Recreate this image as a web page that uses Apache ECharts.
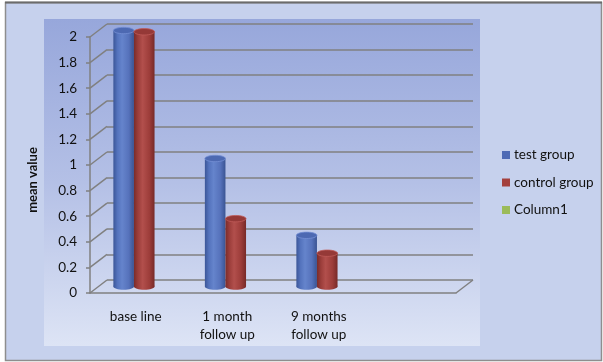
<!DOCTYPE html>
<html>
<head>
<meta charset="utf-8">
<script src="https://cdn.jsdelivr.net/npm/echarts@6/dist/echarts.min.js"></script>
<style>
  html, body { margin: 0; padding: 0; background: #ffffff; }
  #chart { width: 603px; height: 362px; }
</style>
</head>
<body>
<div id="chart"></div>
<script>
// ---- data ----
const categories = ['base line', '1 month\nfollow up', '9 months\nfollow up', ''];
const seriesNames = ['test group', 'control group', 'Column1'];
const testGroup = [2.0, 1.0, 0.4, null];
const controlGroup = [1.99, 0.53, 0.26, null];
const column1 = [null, null, null, null];
const yTicks = [0, 0.2, 0.4, 0.6, 0.8, 1, 1.2, 1.4, 1.6, 1.8, 2];

// ---- layout ----
const FONT = 'Lato, "Open Sans", sans-serif';
const FONT_SIZE = 13.5;
const FRONT = { left: 90, top: 37, width: 366, height: 256 };
const DEPTH = [17, -13];           // offset from front plane to back wall
const GRID_COLOR = '#808080';

const palette = [
  { main: '#4f6bb5', stops: ['#3b5698', '#5473bd', '#6584cc', '#5672bb', '#3a5493'], cap: '#4d69b2', rim: '#7690d6' },
  { main: '#a4403d', stops: ['#7a2c2a', '#9c3e3b', '#b24f4c', '#9d3d3a', '#772a28'], cap: '#953937', rim: '#c05c59' },
  { main: '#9bbb59', stops: ['#7a9a40', '#9bbb59', '#afcd6e', '#9bbb59', '#789640'], cap: '#8fb04f', rim: '#bcd884' }
];
const seriesData = [testGroup, controlGroup, column1];

function gridAt(shift) {
  return {
    left: FRONT.left + shift[0], top: FRONT.top + shift[1],
    width: FRONT.width, height: FRONT.height,
    outerBoundsMode: 'none', containLabel: false
  };
}

function valueAxis(gridIndex, extra) {
  return Object.assign({
    type: 'value', gridIndex, min: 0, max: 2, interval: 0.2,
    axisLine: { show: false }, axisTick: { show: false },
    axisLabel: { show: false }, splitLine: { show: false }
  }, extra || {});
}

function cylinderRenderer(idx) {
  const c = palette[idx];
  return function (params, api) {
    const v = api.value(1);
    if (v == null || isNaN(v)) return null;
    const cat = api.value(0);
    const top = api.coord([cat, v]);
    const base = api.coord([cat, 0]);
    const band = api.size([1, 0])[0];
    const w = band * 0.225;
    const left = top[0] - 1.5 * w + idx * w;
    const rx = w / 2, ry = 3.2, cx = left + rx;
    const grad = new echarts.graphic.LinearGradient(0, 0, 1, 0, [
      { offset: 0, color: c.stops[0] },
      { offset: 0.2, color: c.stops[1] },
      { offset: 0.42, color: c.stops[2] },
      { offset: 0.75, color: c.stops[3] },
      { offset: 1, color: c.stops[4] }
    ]);
    return {
      type: 'group',
      children: [
        { type: 'ellipse', shape: { cx, cy: base[1], rx, ry }, style: { fill: grad } },
        { type: 'rect', shape: { x: left, y: top[1], width: w, height: base[1] - top[1] }, style: { fill: grad } },
        { type: 'ellipse', shape: { cx, cy: top[1], rx, ry }, style: { fill: c.cap, stroke: c.rim, lineWidth: 0.8 } }
      ]
    };
  };
}

// diagonal depth lines from the front axis to the back wall
function depthLines(params, api) {
  const cs = params.coordSys;
  const v = api.value(1);
  const y = api.coord([0, v])[1];
  const lineStyle = { stroke: GRID_COLOR, lineWidth: 1.5 };
  const children = [
    { type: 'line', shape: { x1: cs.x, y1: y, x2: cs.x + DEPTH[0], y2: y + DEPTH[1] }, style: lineStyle }
  ];
  if (v === 0) {
    children.push({ type: 'line',
      shape: { x1: cs.x + cs.width, y1: y, x2: cs.x + cs.width + DEPTH[0], y2: y + DEPTH[1] },
      style: lineStyle });
  }
  return { type: 'group', children };
}

const chart = echarts.init(document.getElementById('chart'), null, { renderer: 'canvas' });

const option = {
  animation: false,
  backgroundColor: 'transparent',
  textStyle: { fontFamily: FONT },
  graphic: [
    { type: 'rect', z: -100, shape: { x: 5.5, y: 2.5, width: 596, height: 358 },
      style: { fill: '#c6d1ed', stroke: '#8e8e8e', lineWidth: 1.5 } },
    { type: 'line', z: -99, shape: { x1: 5, y1: 2.5, x2: 602, y2: 2.5 },
      style: { stroke: '#6b6b6b', lineWidth: 2 } },
    { type: 'rect', z: -98, shape: { x: 44, y: 19, width: 436, height: 327 },
      style: { fill: new echarts.graphic.LinearGradient(0, 0, 0, 1, [
        { offset: 0, color: '#97a7db' },
        { offset: 0.5, color: '#b4c0e6' },
        { offset: 1, color: '#dde4f5' }
      ]) } },
    { type: 'text', z: 10, x: 33, y: 180, rotation: Math.PI / 2,
      style: { text: 'mean value', fontFamily: FONT, fontSize: 13, fontWeight: 'bold',
        fill: '#111', align: 'center', verticalAlign: 'middle' } }
  ],
  grid: [
    gridAt(DEPTH),                       // back wall
    gridAt([0, 0]),                      // front plane (axes, labels)
    gridAt([DEPTH[0] / 2, DEPTH[1] / 2]) // middle plane (cylinders)
  ],
  xAxis: [
    { type: 'category', gridIndex: 0, data: categories, show: false },
    { type: 'category', gridIndex: 1, data: categories,
      axisLine: { show: true, lineStyle: { color: GRID_COLOR, width: 1.5 } },
      axisTick: { show: false },
      axisLabel: { show: true, interval: 0, margin: 15, fontSize: FONT_SIZE, lineHeight: 18,
        color: '#111', fontFamily: FONT } },
    { type: 'category', gridIndex: 2, data: categories, show: false }
  ],
  yAxis: [
    valueAxis(0, { splitLine: { show: true, lineStyle: { color: GRID_COLOR, width: 1.5 } } }),
    valueAxis(1, {
      axisLine: { show: true, lineStyle: { color: GRID_COLOR, width: 1.5 } },
      axisTick: { show: true, length: 4, lineStyle: { color: GRID_COLOR, width: 1.5 } },
      axisLabel: { show: true, margin: 13, fontSize: FONT_SIZE, color: '#111', fontFamily: FONT }
    }),
    valueAxis(2)
  ],
  legend: {
    orient: 'vertical', left: 502, top: 148, padding: 0,
    itemWidth: 8, itemHeight: 8, itemGap: 13.5, icon: 'rect',
    selectedMode: false,
    textStyle: { fontSize: FONT_SIZE, color: '#111', fontFamily: FONT, padding: [0, 0, 0, -1] },
    data: seriesNames
  },
  series: [
    {
      type: 'custom', name: '_depth', xAxisIndex: 1, yAxisIndex: 1, silent: true,
      encode: { x: 0, y: 1 }, z: 1,
      data: yTicks.map(v => [0, v]),
      renderItem: depthLines
    }
  ].concat(seriesNames.map((name, i) => ({
    type: 'custom', name, xAxisIndex: 2, yAxisIndex: 2, z: 5 + i,
    encode: { x: 0, y: 1 },
    itemStyle: { color: palette[i].main },
    data: seriesData[i].map((v, k) => [k, v]),
    renderItem: cylinderRenderer(i)
  })))
};

chart.setOption(option);
</script>
</body>
</html>
